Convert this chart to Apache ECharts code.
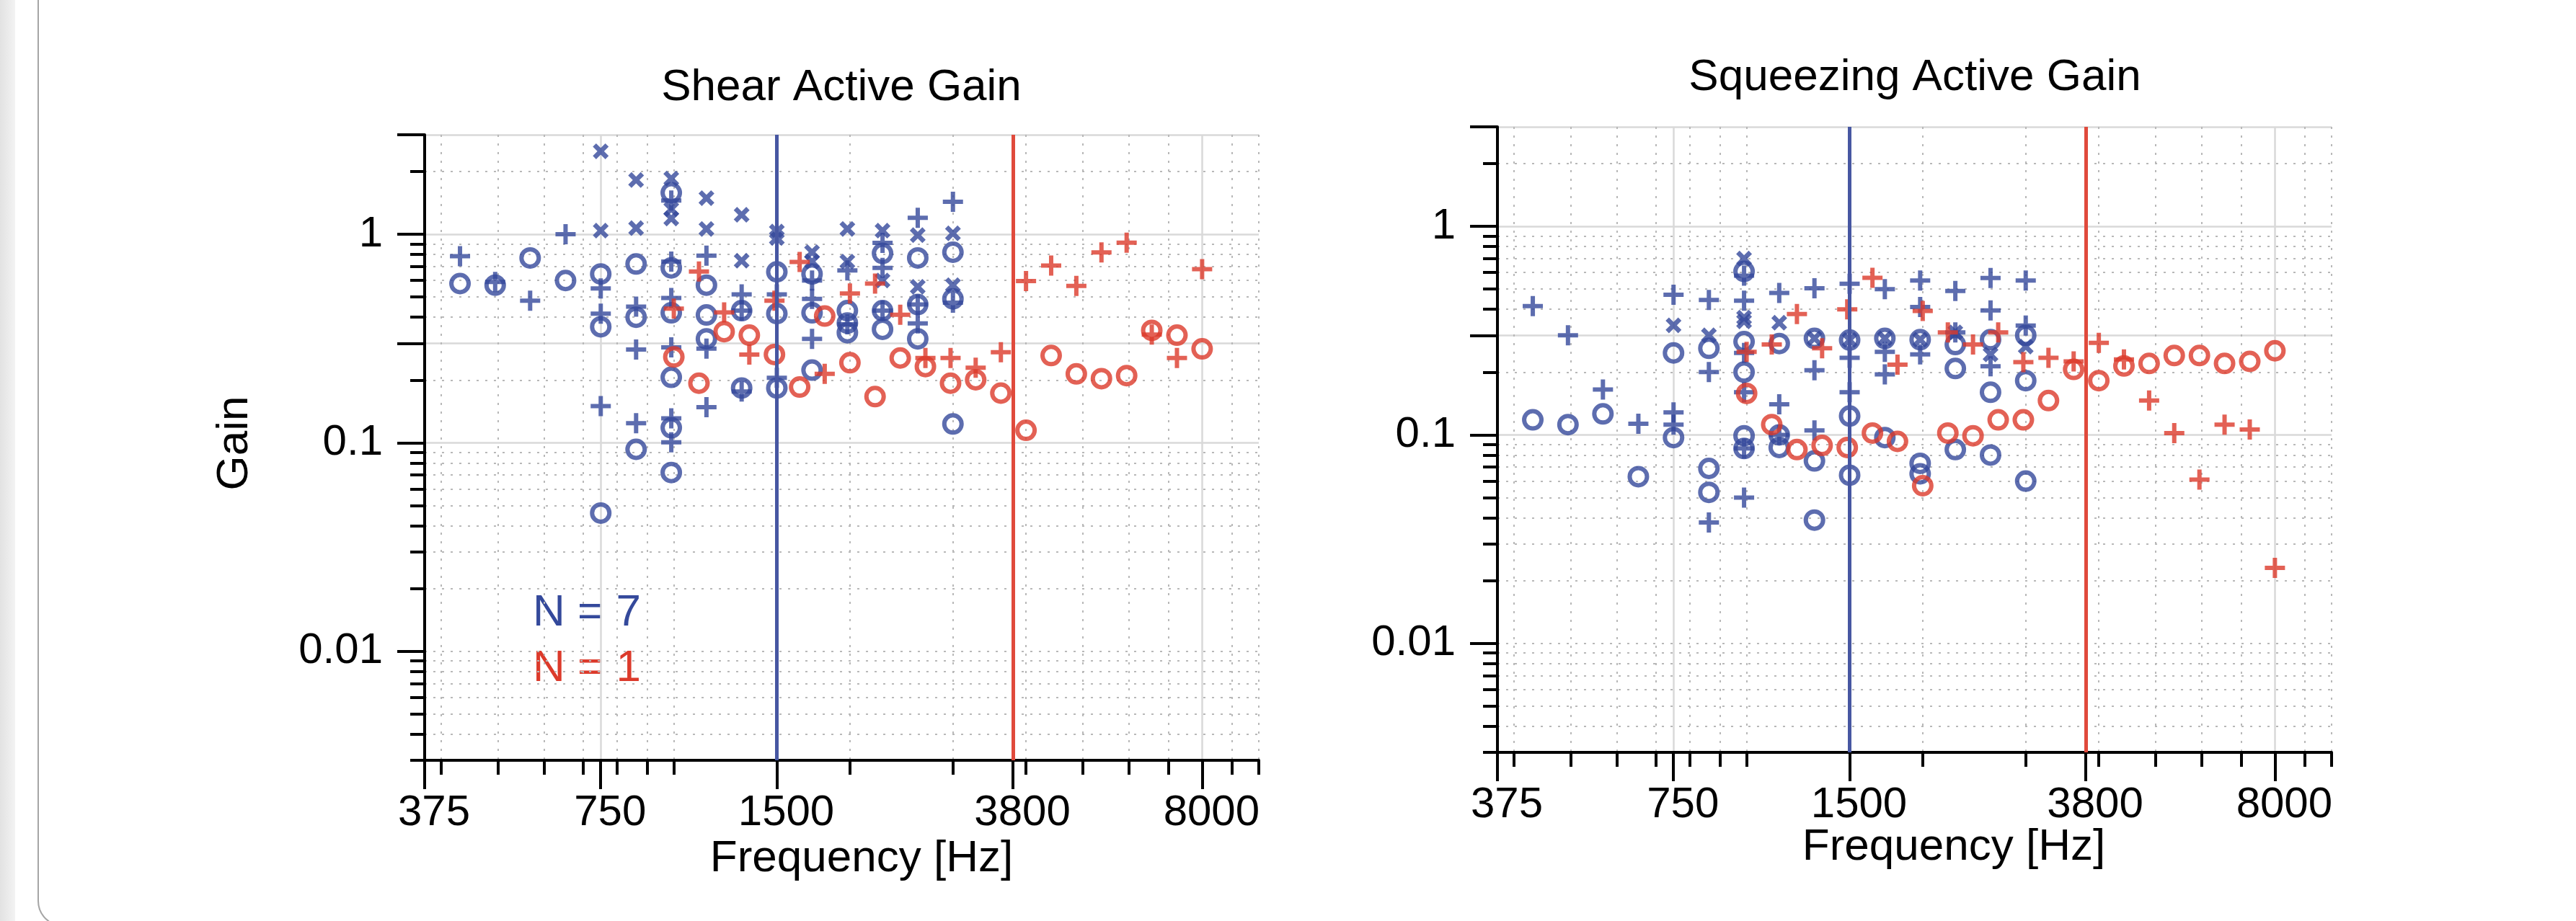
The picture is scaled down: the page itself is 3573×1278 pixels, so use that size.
<!DOCTYPE html>
<html>
<head>
<meta charset="utf-8">
<title>Active Gain</title>
<script src="https://cdn.jsdelivr.net/npm/echarts@6/dist/echarts.min.js"></script>
<style>
html, body { margin: 0; padding: 0; background: #fff; overflow: hidden; }
#strip { position: absolute; left: 0; top: 0; width: 21px; height: 1278px; background: linear-gradient(to right, #e2e2e2, #f3f3f3); }
#card { position: absolute; left: 52px; top: -40px; width: 3600px; height: 1326px; border: 2px solid #a5a5a5; border-radius: 36px; box-sizing: border-box; }
#main { position: absolute; left: 0; top: 0; width: 3573px; height: 1278px; }
</style>
</head>
<body>
<div id="strip"></div>
<div id="card"></div>
<div id="main"></div>
<script>
// frequencies of the two stimulus sets (Hz)
var blueFreq = [431, 495, 568, 653, 750, 862, 990, 1137, 1306, 1500, 1723, 1980, 2274, 2612, 3000];
var redFreq = [1000, 1104, 1219, 1346, 1486, 1641, 1811, 2000, 2208, 2438, 2692, 2972, 3281, 3623, 4000, 4416, 4876, 5383, 5944, 6562, 7246, 8000];

// N = 7 (blue), several values per frequency
var shearBlueO = [[0.58], [0.57], [0.77], [0.60], [0.645, 0.36, 0.046], [0.72, 0.40, 0.093],
    [1.58, 0.69, 0.42, 0.206, 0.118, 0.072], [0.57, 0.41, 0.315], [0.43, 0.183], [0.66, 0.416, 0.183],
    [0.645, 0.42, 0.223], [0.43, 0.375, 0.337], [0.81, 0.43, 0.35], [0.77, 0.46, 0.315], [0.82, 0.49, 0.123]];
var shearBluePlus = [[0.785], [0.59], [0.48], [1.0], [0.55, 0.416, 0.15], [0.45, 0.28, 0.124],
    [1.45, 0.74, 0.495, 0.287, 0.131, 0.1005], [0.79, 0.283, 0.148], [0.515, 0.43, 0.176], [0.515, 0.205],
    [0.60, 0.49, 0.315], [0.67, 0.37], [0.91, 0.69, 0.43], [1.2, 0.46, 0.374], [1.43, 0.47]];
var shearBlueX = [[], [], [], [], [2.5, 1.04], [1.82, 1.07], [1.85, 1.32, 1.19], [1.49, 1.06], [1.24, 0.746],
    [1.03, 0.96], [0.82, 0.74], [1.06, 0.74], [1.04, 0.60], [0.99, 0.56], [1.01, 0.57]];
// N = 1 (red), one value per frequency
var shearRedO = [0.258, 0.193, 0.341, 0.328, 0.265, 0.185, 0.405, 0.242, 0.1665, 0.255, 0.232,
    0.193, 0.2005, 0.173, 0.1148, 0.262, 0.214, 0.203, 0.21, 0.346, 0.328, 0.282];
var shearRedPlus = [0.44, 0.663, 0.422, 0.265, 0.48, 0.737, 0.214, 0.52, 0.58, 0.411, 0.255,
    0.255, 0.229, 0.272, 0.596, 0.708, 0.565, 0.819, 0.911, 0.33, 0.255, 0.68];

var squeezeBlueO = [[0.118], [0.112], [0.126], [0.063], [0.247, 0.097], [0.26, 0.069, 0.053],
    [0.608, 0.28, 0.2, 0.099, 0.086], [0.274, 0.1, 0.087], [0.29, 0.075, 0.039], [0.285, 0.123, 0.064],
    [0.29, 0.097], [0.286, 0.073, 0.065], [0.271, 0.208, 0.085], [0.286, 0.16, 0.08], [0.30, 0.182, 0.06]];
var squeezeBluePlus = [[0.414], [0.30], [0.165], [0.113], [0.47, 0.128, 0.112], [0.443, 0.2, 0.038],
    [0.58, 0.44, 0.247, 0.16, 0.086, 0.05], [0.479, 0.14, 0.1], [0.505, 0.204, 0.105], [0.53, 0.234, 0.16],
    [0.50, 0.25, 0.195], [0.55, 0.41, 0.243], [0.49, 0.31], [0.565, 0.395, 0.213], [0.55, 0.334]];
var squeezeBlueX = [[], [], [], [], [0.335], [0.30], [0.70, 0.365, 0.35], [0.345], [0.29], [0.285],
    [0.29], [0.286], [0.31], [0.243], [0.265]];
var squeezeRedO = [0.158, 0.112, 0.085, 0.089, 0.087, 0.102, 0.093, 0.057, 0.102, 0.099, 0.118,
    0.118, 0.146, 0.206, 0.182, 0.214, 0.22, 0.24, 0.24, 0.22, 0.225, 0.253];
var squeezeRedPlus = [0.25, 0.271, 0.38, 0.26, 0.40, 0.566, 0.217, 0.393, 0.31, 0.271, 0.31,
    0.223, 0.234, 0.225, 0.276, 0.23, 0.146, 0.102, 0.061, 0.112, 0.106, 0.023];

// reference frequencies (vertical lines)
var blueLineFreq = 1500;
var redLineFreq = 3800;

// axis ticks
var xRange = [375, 10000];
var yRange = [0.003, 3];
var xMajor = [375, 750, 1500, 3800, 8000];
var xMinor = [400, 500, 600, 700, 800, 900, 1000, 2000, 3000, 4000, 5000, 6000, 7000, 9000, 10000];
var xSolid = [750, 1500, 3800, 8000];
var yMajor = [0.01, 0.1, 0.3, 1, 3];
var yLabels = [0.01, 0.1, 1];
var yMinor = [0.003, 0.004, 0.005, 0.006, 0.007, 0.008, 0.009, 0.01, 0.02, 0.03, 0.04, 0.05, 0.06,
    0.07, 0.08, 0.09, 0.2, 0.4, 0.5, 0.6, 0.7, 0.8, 0.9, 2];
var ySolid = [0.1, 0.3, 1, 3];

var FONT = 'Liberation Sans, Arial, Helvetica, sans-serif';
var BLUE = '#34499b';
var RED = '#dc3a2b';
var PLUS = 'path://M11,0H17V11H28V17H17V28H11V17H0V11H11Z';
var CROSS = 'path://M0,4.2L4.2,0L20,15.8L15.8,20Z M15.8,0L20,4.2L4.2,20L0,15.8Z';

function multi(freqs, cols) {
    var out = [];
    freqs.forEach(function (f, i) {
        cols[i].forEach(function (g) { out.push([f, g]); });
    });
    return out;
}
function single(freqs, vals) {
    return freqs.map(function (f, i) { return [f, vals[i]]; });
}

var panels = [
    { left: 589, top: 187, blueO: shearBlueO, bluePlus: shearBluePlus, blueX: shearBlueX, redO: shearRedO, redPlus: shearRedPlus },
    { left: 2077, top: 176, blueO: squeezeBlueO, bluePlus: squeezeBluePlus, blueX: squeezeBlueX, redO: squeezeRedO, redPlus: squeezeRedPlus }
];
var W = 1157, H = 868;

var grids = [], xAxes = [], yAxes = [], series = [];
var fmt = function (v) { return String(v); };

panels.forEach(function (p, pi) {
    // 4 stacked layers: data, dotted grid, solid grid, axis
    for (var l = 0; l < 4; l++) {
        var gi = pi * 4 + l;
        grids.push({ left: p.left, top: p.top, width: W, height: H, outerBoundsMode: 'none' });
        var x = { type: 'log', gridIndex: gi, min: xRange[0], max: xRange[1] };
        var y = { type: 'log', gridIndex: gi, min: yRange[0], max: yRange[1] };
        if (l === 0) {
            x.show = false; y.show = false;
        } else if (l === 1) {
            x.axisLine = { show: false };
            x.axisTick = { show: true, length: 20, customValues: xMinor, lineStyle: { color: '#000', width: 4 } };
            x.axisLabel = { show: false };
            x.splitLine = { show: true, lineStyle: { color: '#b8b8b8', width: 2, type: [3, 9] } };
            y.axisLine = { show: false };
            y.axisTick = { show: true, length: 20, customValues: yMinor, lineStyle: { color: '#000', width: 4 } };
            y.axisLabel = { show: false };
            y.splitLine = { show: true, lineStyle: { color: '#b8b8b8', width: 2, type: [3, 9] } };
        } else if (l === 2) {
            x.axisLine = { show: false };
            x.axisTick = { show: false, customValues: xSolid };
            x.axisLabel = { show: false };
            x.splitLine = { show: true, lineStyle: { color: '#d9d9d9', width: 2.5 } };
            y.axisLine = { show: false };
            y.axisTick = { show: false, customValues: ySolid };
            y.axisLabel = { show: false };
            y.splitLine = { show: true, lineStyle: { color: '#d9d9d9', width: 2.5 } };
        } else {
            x.axisLine = { show: true, lineStyle: { color: '#000', width: 4 } };
            x.axisTick = { show: true, length: 40, customValues: xMajor, lineStyle: { color: '#000', width: 4 } };
            x.axisLabel = { show: true, customValues: xMajor, margin: 43, fontSize: 60, fontFamily: FONT, color: '#000',
                padding: [0, 0, 0, 26], formatter: fmt };
            x.splitLine = { show: false };
            y.axisLine = { show: true, lineStyle: { color: '#000', width: 4 } };
            y.axisTick = { show: true, length: 38, customValues: yMajor, lineStyle: { color: '#000', width: 4 } };
            y.axisLabel = { show: true, customValues: yLabels, margin: 58, fontSize: 60, fontFamily: FONT, color: '#000', formatter: fmt };
            y.splitLine = { show: false };
        }
        xAxes.push(x);
        yAxes.push(y);
    }
    var di = pi * 4;
    series.push({
        type: 'scatter', xAxisIndex: di, yAxisIndex: di, symbol: 'circle', symbolSize: 24,
        itemStyle: { color: 'rgba(0,0,0,0)', borderColor: BLUE, borderWidth: 6 },
        data: multi(blueFreq, p.blueO),
        markLine: { silent: true, symbol: 'none', label: { show: false },
            lineStyle: { color: '#4757a2', width: 5, type: 'solid' }, data: [{ xAxis: blueLineFreq }] }
    });
    series.push({
        type: 'scatter', xAxisIndex: di, yAxisIndex: di, symbol: PLUS, symbolSize: 28,
        itemStyle: { color: BLUE }, data: multi(blueFreq, p.bluePlus)
    });
    series.push({
        type: 'scatter', xAxisIndex: di, yAxisIndex: di, symbol: CROSS, symbolSize: 22,
        itemStyle: { color: BLUE }, data: multi(blueFreq, p.blueX)
    });
    series.push({
        type: 'scatter', xAxisIndex: di, yAxisIndex: di, symbol: 'circle', symbolSize: 24,
        itemStyle: { color: 'rgba(0,0,0,0)', borderColor: RED, borderWidth: 6 },
        data: single(redFreq, p.redO),
        markLine: { silent: true, symbol: 'none', label: { show: false },
            lineStyle: { color: '#e04a3c', width: 5, type: 'solid' }, data: [{ xAxis: redLineFreq }] }
    });
    series.push({
        type: 'scatter', xAxisIndex: di, yAxisIndex: di, symbol: PLUS, symbolSize: 28,
        itemStyle: { color: RED }, data: single(redFreq, p.redPlus)
    });
});

function txt(s, x, y, color, rot) {
    return {
        type: 'text', x: x, y: y, rotation: rot || 0, silent: true,
        style: { text: s, fill: color || '#000', fontSize: 62, fontFamily: FONT, align: 'center', verticalAlign: 'middle' }
    };
}

var option = {
    animation: false,
    grid: grids,
    xAxis: xAxes,
    yAxis: yAxes,
    series: series,
    graphic: [
        txt('Shear Active Gain', 1167, 122),
        txt('Squeezing Active Gain', 2656, 108),
        txt('Frequency [Hz]', 1195, 1192),
        txt('Frequency [Hz]', 2710, 1176),
        txt('Gain', 326, 615, '#000', Math.PI / 2),
        { type: 'text', x: 739, y: 851, silent: true,
          style: { text: 'N = 7', fill: BLUE, fontSize: 62, fontFamily: FONT, align: 'left', verticalAlign: 'middle' } },
        { type: 'text', x: 739, y: 928, silent: true,
          style: { text: 'N = 1', fill: RED, fontSize: 62, fontFamily: FONT, align: 'left', verticalAlign: 'middle' } }
    ]
};

var myChart = echarts.init(document.getElementById('main'));
myChart.setOption(option);
</script>
</body>
</html>
